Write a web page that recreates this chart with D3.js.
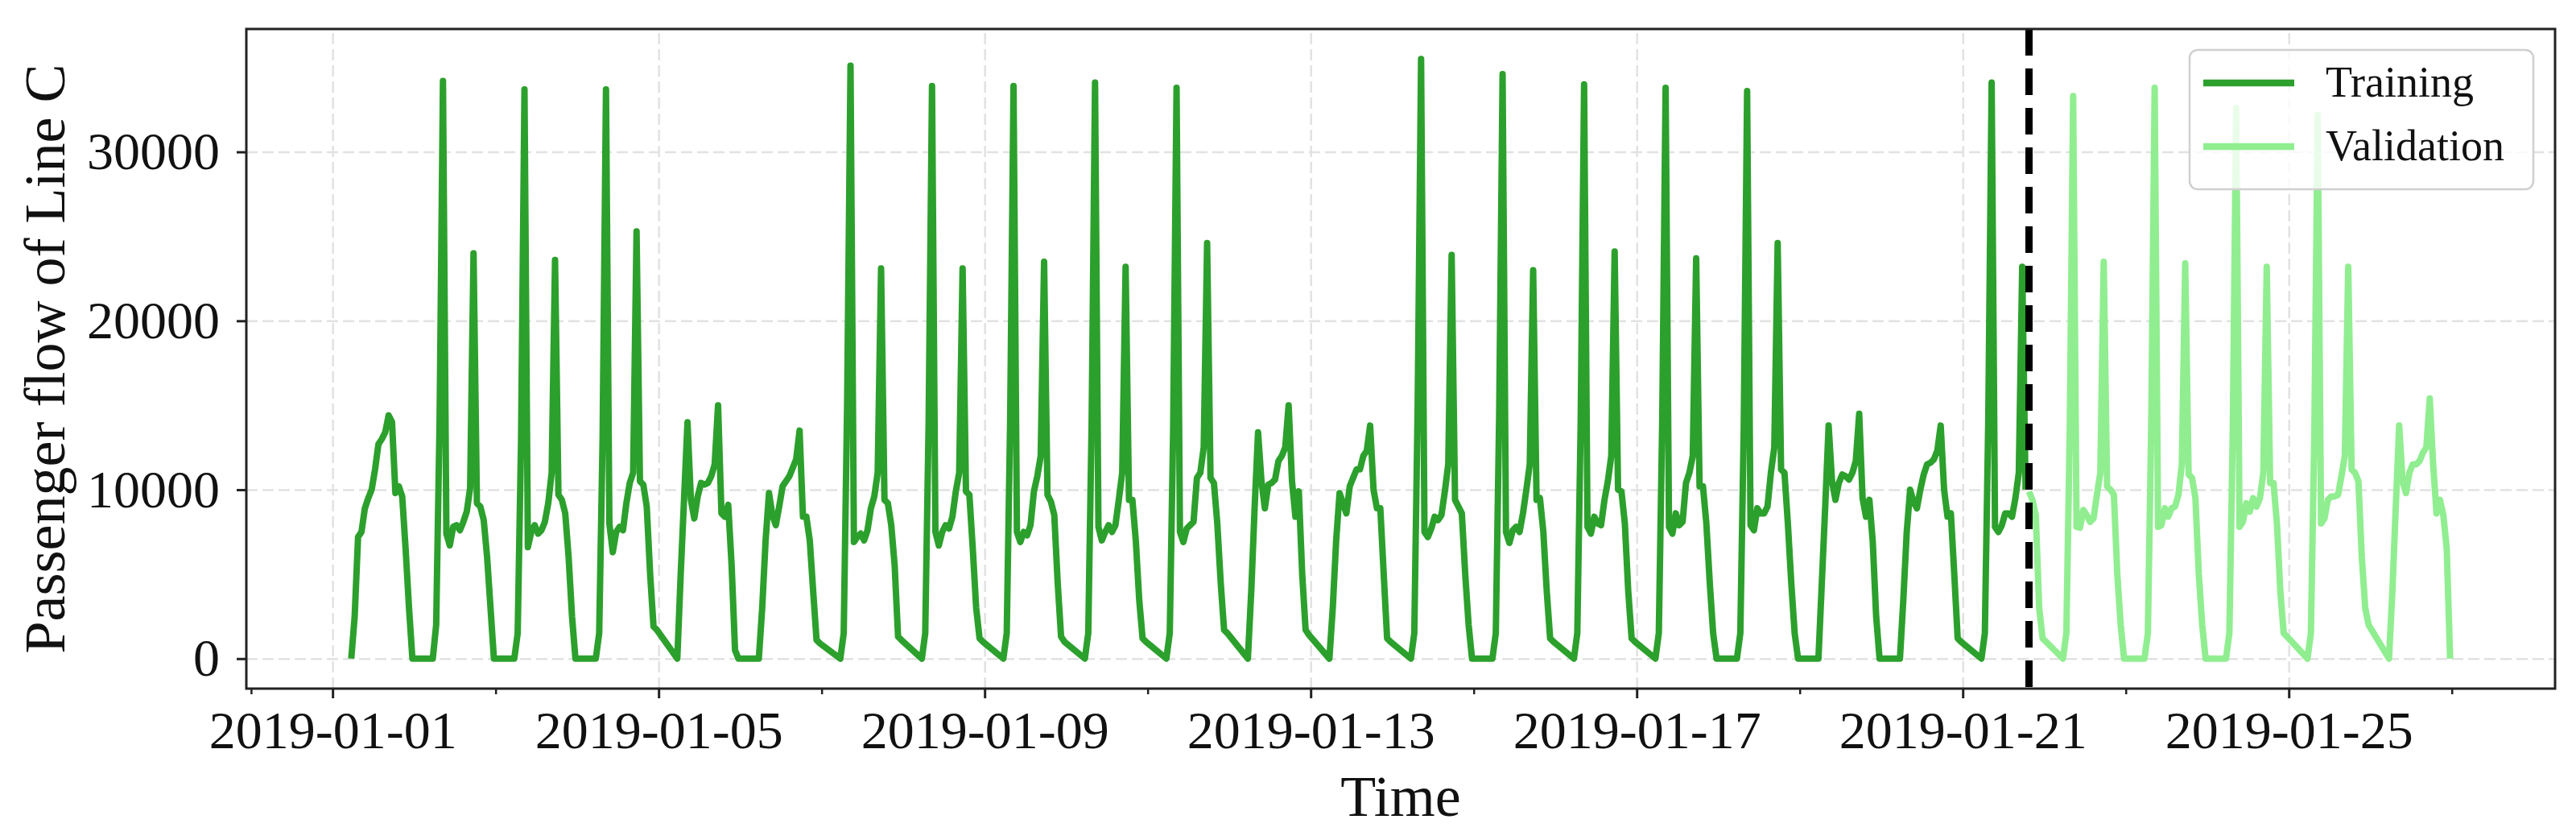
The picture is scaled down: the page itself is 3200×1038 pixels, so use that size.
<!DOCTYPE html>
<html lang="en">
<head>
<meta charset="UTF-8">
<title>Passenger flow of Line C</title>
<style>
    body {
        margin: 0;
        background: white;
    }
    svg text {
        font-family: 'Liberation Serif', 'Times New Roman', serif;
        fill: #111;
    }
</style>
</head>
<body>
<div id="chart"></div>

<script src="https://d3js.org/d3.v7.min.js"></script>
<script>
    const width = 3200, height = 1038;
    const margin = {top: 36, right: 26, bottom: 183, left: 306};

    // one row per day, sampled every hour from 05:30 to 23:30
    const dates = [
        "2019-01-01", "2019-01-02", "2019-01-03", "2019-01-04", "2019-01-05", "2019-01-06",
        "2019-01-07", "2019-01-08", "2019-01-09", "2019-01-10", "2019-01-11", "2019-01-12",
        "2019-01-13", "2019-01-14", "2019-01-15", "2019-01-16", "2019-01-17", "2019-01-18",
        "2019-01-19", "2019-01-20", "2019-01-21", "2019-01-22", "2019-01-23", "2019-01-24",
        "2019-01-25", "2019-01-26"
    ];
    const sampleTimes = ["05:30", "06:30", "07:30", "08:30", "09:30", "10:30", "11:30", "12:30",
        "13:30", "14:30", "15:30", "16:30", "17:30", "18:30", "19:30", "20:30", "21:30", "22:30", "23:30"];

    const flow = [
        [0, 2500, 7200, 7500, 8900, 9500, 10000, 11200, 12700, 13000, 13400, 14400, 14000, 9800, 10200, 9600, 6500, 3000, 0],
        [0, 2000, 14000, 34200, 7400, 6700, 7800, 7900, 7600, 8100, 8700, 10100, 24000, 9200, 9000, 8200, 6000, 3000, 0],
        [0, 1500, 13000, 33700, 6600, 7500, 7900, 7400, 7600, 8100, 9200, 11000, 23600, 9700, 9400, 8600, 6000, 2500, 0],
        [0, 1500, 13000, 33700, 8000, 6300, 7500, 7800, 7600, 9200, 10400, 11000, 25300, 10500, 10300, 9000, 5000, 1900, 1700],
        [0, 5000, 9500, 14000, 9400, 8300, 9600, 10400, 10300, 10400, 10800, 11500, 15000, 8600, 8400, 9100, 5500, 500, 0],
        [0, 3000, 7000, 9800, 8500, 7900, 9000, 10200, 10500, 10800, 11300, 11800, 13500, 8400, 8400, 7000, 4000, 1100, 900],
        [0, 1500, 15000, 35100, 6900, 7200, 7400, 7000, 7600, 8900, 9600, 11000, 23100, 9400, 9200, 7900, 5500, 1300, 1100],
        [0, 1500, 14000, 33900, 7500, 6700, 7500, 7900, 7700, 8400, 9900, 11000, 23100, 9900, 9700, 6500, 3000, 1200, 1000],
        [0, 1500, 14000, 33900, 7500, 6900, 7500, 7300, 7900, 9900, 10800, 12000, 23500, 9700, 9300, 8500, 4500, 1300, 1000],
        [0, 1500, 14000, 34100, 7800, 7000, 7500, 7900, 7500, 7900, 9400, 11000, 23200, 9400, 9400, 7000, 3500, 1200, 1000],
        [0, 1500, 13500, 33800, 7500, 6900, 7700, 7900, 8100, 10700, 11000, 12500, 24600, 10700, 10400, 8000, 4500, 1700, 1500],
        [0, 4000, 9000, 13400, 10500, 8900, 10300, 10400, 10600, 11700, 12000, 12500, 15000, 10500, 8400, 9900, 5000, 1700, 1400],
        [0, 3000, 7000, 9800, 9200, 8600, 10200, 10700, 11200, 11200, 12000, 12300, 13800, 10000, 8900, 8900, 5000, 1200, 1000],
        [0, 1500, 15000, 35500, 7500, 7200, 7700, 8400, 8200, 8500, 9900, 11500, 23900, 9400, 9000, 8600, 5000, 2000, 0],
        [0, 1500, 14500, 34600, 7500, 6850, 7600, 7800, 7500, 8600, 10000, 11500, 23000, 9400, 9500, 7500, 4000, 1200, 1000],
        [0, 1500, 14000, 34000, 7800, 7400, 8400, 8000, 7900, 9400, 10500, 12000, 24100, 10000, 9900, 8000, 4000, 1200, 1000],
        [0, 1500, 14000, 33800, 7800, 7400, 8600, 7900, 8100, 10400, 11000, 12000, 23700, 10200, 10200, 8000, 4500, 1500, 0],
        [0, 1500, 13500, 33600, 7900, 7600, 8900, 8600, 8600, 9000, 11000, 12500, 24600, 11200, 11000, 8000, 4500, 1500, 0],
        [0, 4500, 9000, 13800, 10500, 9400, 10400, 10900, 10800, 10600, 11000, 11700, 14500, 9500, 8400, 9400, 6900, 2500, 0],
        [0, 3500, 7500, 10000, 9300, 8900, 10000, 10900, 11500, 11600, 11800, 12300, 13800, 10000, 8400, 8600, 5000, 1200, 1000],
        [0, 1500, 14000, 34100, 7800, 7500, 7900, 8600, 8600, 8400, 9500, 11000, 23200, 10000, 9900, 9400, 8500, 3000, 1200],
        [0, 1500, 13500, 33300, 7800, 7750, 8800, 8500, 8100, 8300, 9700, 11000, 23500, 10200, 10000, 9700, 5000, 2000, 0],
        [0, 1500, 14000, 33800, 7800, 7900, 8900, 8400, 8900, 9000, 9700, 11500, 23400, 10900, 10700, 9500, 5000, 2000, 0],
        [0, 1500, 13500, 32600, 7800, 8100, 9200, 8700, 9500, 9000, 9500, 11000, 23200, 10400, 10400, 8000, 4000, 1500, 1300],
        [0, 1500, 13000, 32200, 8000, 8300, 9400, 9600, 9600, 9700, 10800, 12000, 23200, 11200, 11000, 10500, 6000, 3000, 2000],
        [0, 4000, 9000, 13800, 10500, 9800, 11000, 11500, 11500, 11700, 12200, 12500, 15400, 11500, 8600, 9400, 8500, 6500, 0]
    ];

    // first validation sample
    const splitTime = "2019-01-21T19:30";

    const yTicks = [0, 10000, 20000, 30000];
    const majorTicks = ["2019-01-01", "2019-01-05", "2019-01-09", "2019-01-13", "2019-01-17", "2019-01-21", "2019-01-25"];
    const minorTicks = ["2018-12-31", "2019-01-03", "2019-01-07", "2019-01-11", "2019-01-15", "2019-01-19", "2019-01-23", "2019-01-27"];

    const parseDay = d3.utcParse("%Y-%m-%d");
    const parseTime = d3.utcParse("%Y-%m-%dT%H:%M");

    const points = [];
    dates.forEach((day, i) => {
        sampleTimes.forEach((t, j) => {
            points.push({time: parseTime(day + "T" + t), value: flow[i][j]});
        });
    });
    const split = parseTime(splitTime);
    const training = points.filter(p => p.time < split);
    const validation = points.filter(p => p.time >= split);

    const innerW = width - margin.left - margin.right;
    const innerH = height - margin.top - margin.bottom;

    // matplotlib style 5% margins around the data
    const tExt = d3.extent(points, p => p.time);
    const tPad = (tExt[1] - tExt[0]) * 0.05;
    const x = d3.scaleUtc()
        .domain([new Date(+tExt[0] - tPad), new Date(+tExt[1] + tPad)])
        .range([0, innerW]);

    const vMax = d3.max(points, p => p.value);
    const y = d3.scaleLinear()
        .domain([-vMax * 0.05, vMax * 1.05])
        .range([innerH, 0]);

    const svg = d3.select("#chart")
        .append("svg")
        .attr("width", width)
        .attr("height", height);

    const g = svg.append("g")
        .attr("transform", `translate(${margin.left},${margin.top})`);

    // grid
    g.append("g")
        .attr("class", "grid")
        .call(d3.axisLeft(y).tickValues(yTicks).tickSize(-innerW).tickFormat(""))
        .call(a => a.select(".domain").remove());
    g.append("g")
        .attr("class", "grid")
        .attr("transform", `translate(0,${innerH})`)
        .call(d3.axisBottom(x).tickValues(majorTicks.map(parseDay)).tickSize(-innerH).tickFormat(""))
        .call(a => a.select(".domain").remove());
    g.selectAll(".grid line")
        .attr("stroke", "#e2e2e2")
        .attr("stroke-width", 2.5)
        .attr("stroke-dasharray", "14,6");

    const line = d3.line()
        .x(p => x(p.time))
        .y(p => y(p.value));

    g.append("path")
        .datum(training)
        .attr("d", line)
        .attr("fill", "none")
        .attr("stroke", "#2ca02c")
        .attr("stroke-width", 8)
        .attr("stroke-linejoin", "round");

    g.append("path")
        .datum(validation)
        .attr("d", line)
        .attr("fill", "none")
        .attr("stroke", "#90ee90")
        .attr("stroke-width", 8)
        .attr("stroke-linejoin", "round");

    // train / validation boundary
    g.append("line")
        .attr("x1", x(split)).attr("x2", x(split))
        .attr("y1", 0).attr("y2", innerH)
        .attr("stroke", "black")
        .attr("stroke-width", 9)
        .attr("stroke-dasharray", "33,16");

    // frame
    g.append("rect")
        .attr("width", innerW)
        .attr("height", innerH)
        .attr("fill", "none")
        .attr("stroke", "#222")
        .attr("stroke-width", 3);

    // axes
    const yAxis = g.append("g")
        .call(d3.axisLeft(y).tickValues(yTicks).tickSize(12).tickPadding(21).tickFormat(d3.format("d")));
    yAxis.select(".domain").remove();
    yAxis.selectAll("line").attr("stroke", "#222").attr("stroke-width", 3);
    yAxis.selectAll("text").style("font-size", "66px");

    const xAxis = g.append("g")
        .attr("transform", `translate(0,${innerH})`)
        .call(d3.axisBottom(x).tickValues(majorTicks.map(parseDay)).tickSize(12).tickPadding(15)
            .tickFormat(d3.utcFormat("%Y-%m-%d")));
    xAxis.select(".domain").remove();
    xAxis.selectAll("line").attr("stroke", "#222").attr("stroke-width", 3);
    xAxis.selectAll("text").style("font-size", "66px");

    const xMinor = g.append("g")
        .attr("transform", `translate(0,${innerH})`)
        .call(d3.axisBottom(x).tickValues(minorTicks.map(parseDay)).tickSize(7).tickFormat(""));
    xMinor.select(".domain").remove();
    xMinor.selectAll("line").attr("stroke", "#222").attr("stroke-width", 2.5);

    // axis titles
    svg.append("text")
        .attr("x", margin.left + innerW / 2)
        .attr("y", 1013)
        .attr("text-anchor", "middle")
        .style("font-size", "72px")
        .text("Time");

    svg.append("text")
        .attr("transform", `translate(80,${margin.top + innerH / 2}) rotate(-90)`)
        .attr("text-anchor", "middle")
        .style("font-size", "72px")
        .text("Passenger flow of Line C");

    // legend
    const legend = svg.append("g").attr("transform", "translate(2720,62)");
    legend.append("rect")
        .attr("width", 427)
        .attr("height", 173)
        .attr("rx", 10)
        .attr("fill", "white")
        .attr("fill-opacity", 0.8)
        .attr("stroke", "#d0d0d0")
        .attr("stroke-width", 2.5);

    const series = [
        {name: "Training", color: "#2ca02c"},
        {name: "Validation", color: "#90ee90"}
    ];
    series.forEach((s, i) => {
        const yy = 41 + i * 79;
        legend.append("line")
            .attr("x1", 17).attr("x2", 130)
            .attr("y1", yy).attr("y2", yy)
            .attr("stroke", s.color)
            .attr("stroke-width", 8.5);
        legend.append("text")
            .attr("x", 169)
            .attr("y", yy + 17)
            .style("font-size", "54px")
            .text(s.name);
    });
</script>
</body>
</html>
